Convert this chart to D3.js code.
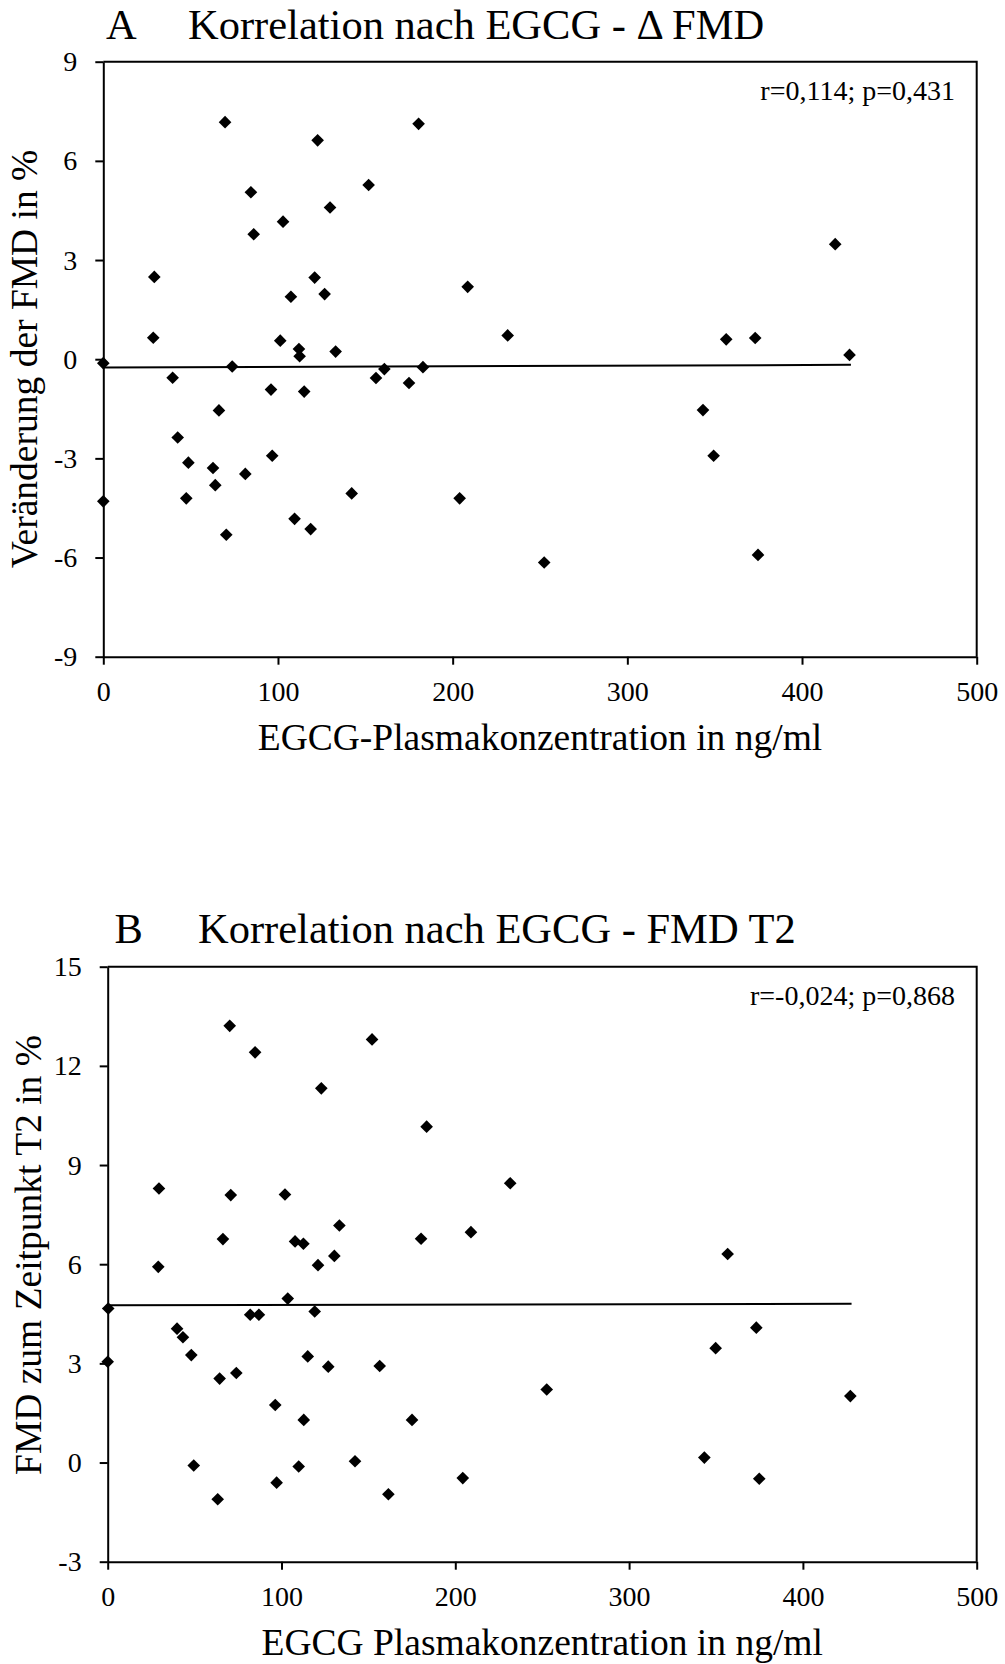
<!DOCTYPE html>
<html>
<head>
<meta charset="utf-8">
<script src="https://cdn.jsdelivr.net/npm/d3@7"></script>
<style>
  body { margin: 0; background: #fff; }
  svg { display: block; }
  text { font-family: "Liberation Serif", "Times New Roman", serif; fill: #000; }
</style>
</head>
<body>
<svg id="chart"></svg>
<script>
var width = 1005,
    height = 1664

// panel A: EGCG (ng/ml) vs change of FMD (%)
var egcgA = [0, 0, 28.6, 29.2, 39.7, 42.6, 47.5, 48.7, 62.8, 64.1,
    66.2, 69.7, 70.4, 73.8, 81.3, 84.5, 86.1, 96, 96.7, 101.3,
    102.9, 107.4, 109.5, 112, 112.4, 115, 118.7, 121, 122.7, 126.7,
    129.8, 133, 142.2, 151.9, 156.1, 160.9, 175, 180.5, 183, 204,
    208.6, 231.5, 252.4, 343.3, 349.4, 356.6, 373.2, 374.8, 419, 427.2]
var deltaFmdA = [-0.12, -4.3, 0.65, 2.49, -0.56, -2.37, -4.21, -3.13, -3.29, -3.81,
    -1.55, 7.17, -5.31, -0.22, -3.47, 5.05, 3.78, -0.92, -2.92, 0.56,
    4.16, 1.89, -4.83, 0.31, 0.09, -0.98, -5.14, 2.47, 6.62, 1.97,
    4.59, 0.23, -4.06, 5.27, -0.57, -0.3, -0.72, 7.12, -0.24, -4.21,
    2.19, 0.72, -6.15, -1.54, -2.92, 0.6, 0.64, -5.92, 3.48, 0.13]
var trendXA = [0, 428]
var trendYA = [-0.25, -0.17]
var yTicksA = [-9, -6, -3, 0, 3, 6, 9]

// panel B: EGCG (ng/ml) vs FMD at T2 (%)
var egcgB = [0.3, 0, 29.5, 29.1, 39.9, 43.3, 48.1, 49.5, 63.3, 64.4,
    66.3, 70.2, 70.8, 74, 82, 84.8, 87, 96.4, 97.2, 102,
    103.6, 107.8, 109.9, 112.6, 112.8, 115.1, 119.1, 121, 122.9, 126.9,
    130.4, 133.3, 142.3, 152.1, 156.5, 161.5, 175.1, 180.3, 183.5, 204.3,
    209, 231.6, 252.6, 343.3, 349.8, 356.7, 373.2, 374.9, 427.3]
var fmdT2B = [4.66, 3.05, 8.29, 5.92, 4.05, 3.79, 3.25, -0.09, -1.11, 2.54,
    6.76, 13.21, 8.09, 2.71, 4.47, 12.41, 4.47, 1.74, -0.61, 8.11,
    4.96, 6.69, -0.12, 6.62, 1.29, 3.21, 4.57, 5.97, 11.32, 2.9,
    6.25, 7.17, 0.04, 12.8, 2.92, -0.96, 1.29, 6.77, 10.16, -0.47,
    6.97, 8.45, 2.21, 0.15, 3.46, 6.31, 4.08, -0.49, 2.01]
var trendXB = [0, 428]
var trendYB = [4.76, 4.8]
var yTicksB = [-3, 0, 3, 6, 9, 12, 15]

var xTicks = [0, 100, 200, 300, 400, 500]

var svg = d3.select("svg#chart")
    .attr("width", width)
    .attr("height", height)

// plain hyphen for negatives, like the original
var plain = function(d) { return String(d) }

function drawPanel(p) {
    var x = d3.scaleLinear().domain([0, 500]).range([p.left, p.right])
    var y = d3.scaleLinear().domain(p.yDomain).range([p.bottom, p.top])

    var g = svg.append("g")

    // frame top + right
    g.append("path")
        .attr("d", "M" + p.left + "," + p.top + "H" + p.right + "V" + p.bottom)
        .attr("fill", "none")
        .attr("stroke", "#000")
        .attr("stroke-width", 2)

    g.append("g")
        .attr("transform", "translate(" + p.left + ",0)")
        .call(d3.axisLeft(y).tickValues(p.yTicks).tickFormat(plain)
            .tickSize(8).tickSizeOuter(0).tickPadding(18))
    g.append("g")
        .attr("transform", "translate(0," + p.bottom + ")")
        .call(d3.axisBottom(x).tickValues(xTicks).tickFormat(plain)
            .tickSize(8).tickSizeOuter(0).tickPadding(16))

    g.selectAll(".domain, .tick line")
        .attr("stroke", "#000")
        .attr("stroke-width", 2)
    g.selectAll(".tick text")
        .attr("font-family", "Liberation Serif")
        .attr("font-size", 28)
        .attr("fill", "#000")

    // regression line
    var line = d3.line()
        .x(function(d) { return x(d[0]) })
        .y(function(d) { return y(d[1]) })
    g.append("path")
        .datum(d3.zip(p.trendX, p.trendY))
        .attr("d", line)
        .attr("fill", "none")
        .attr("stroke", "#000")
        .attr("stroke-width", 2)

    var sym = d3.symbol().type(d3.symbolSquare).size(80)
    g.selectAll("path.pt")
        .data(d3.zip(p.xs, p.ys))
        .enter()
        .append("path")
        .attr("class", "pt")
        .attr("d", sym)
        .attr("fill", "#000")
        .attr("transform", function(d) {
            return "translate(" + x(d[0]) + "," + y(d[1]) + ") rotate(45)"
        })

    g.append("text")
        .attr("x", p.letterX)
        .attr("y", p.titleY)
        .attr("font-size", 42.5)
        .text(p.letter)
    g.append("text")
        .attr("x", p.titleX)
        .attr("y", p.titleY)
        .attr("font-size", 42.5)
        .text(p.title)

    g.append("text")
        .attr("x", 955)
        .attr("y", p.top + 38)
        .attr("text-anchor", "end")
        .attr("font-size", 28)
        .text(p.stat)

    g.append("text")
        .attr("x", (p.left + p.right) / 2)
        .attr("y", p.bottom + 93)
        .attr("text-anchor", "middle")
        .attr("font-size", 37.5)
        .text(p.xLabel)

    g.append("text")
        .attr("transform", "translate(" + p.yLabelX + "," + p.yLabelY + ") rotate(-90)")
        .attr("text-anchor", "middle")
        .attr("font-size", 37.5)
        .text(p.yLabel)
}

drawPanel({
    left: 103.3, right: 976.7, top: 61.7, bottom: 656.7,
    yDomain: [-9, 9], yTicks: yTicksA,
    xs: egcgA, ys: deltaFmdA, trendX: trendXA, trendY: trendYA,
    letter: "A", letterX: 106, titleX: 188, titleY: 38.5,
    title: "Korrelation nach EGCG - \u0394 FMD",
    stat: "r=0,114; p=0,431",
    xLabel: "EGCG-Plasmakonzentration in ng/ml",
    yLabel: "Veränderung der FMD in %", yLabelX: 37, yLabelY: 359
})

drawPanel({
    left: 107.7, right: 976.7, top: 966.7, bottom: 1561.7,
    yDomain: [-3, 15], yTicks: yTicksB,
    xs: egcgB, ys: fmdT2B, trendX: trendXB, trendY: trendYB,
    letter: "B", letterX: 114.5, titleX: 198, titleY: 943,
    title: "Korrelation nach EGCG - FMD T2",
    stat: "r=-0,024; p=0,868",
    xLabel: "EGCG Plasmakonzentration in ng/ml",
    yLabel: "FMD zum Zeitpunkt T2 in %", yLabelX: 41, yLabelY: 1255
})
</script>
</body>
</html>
